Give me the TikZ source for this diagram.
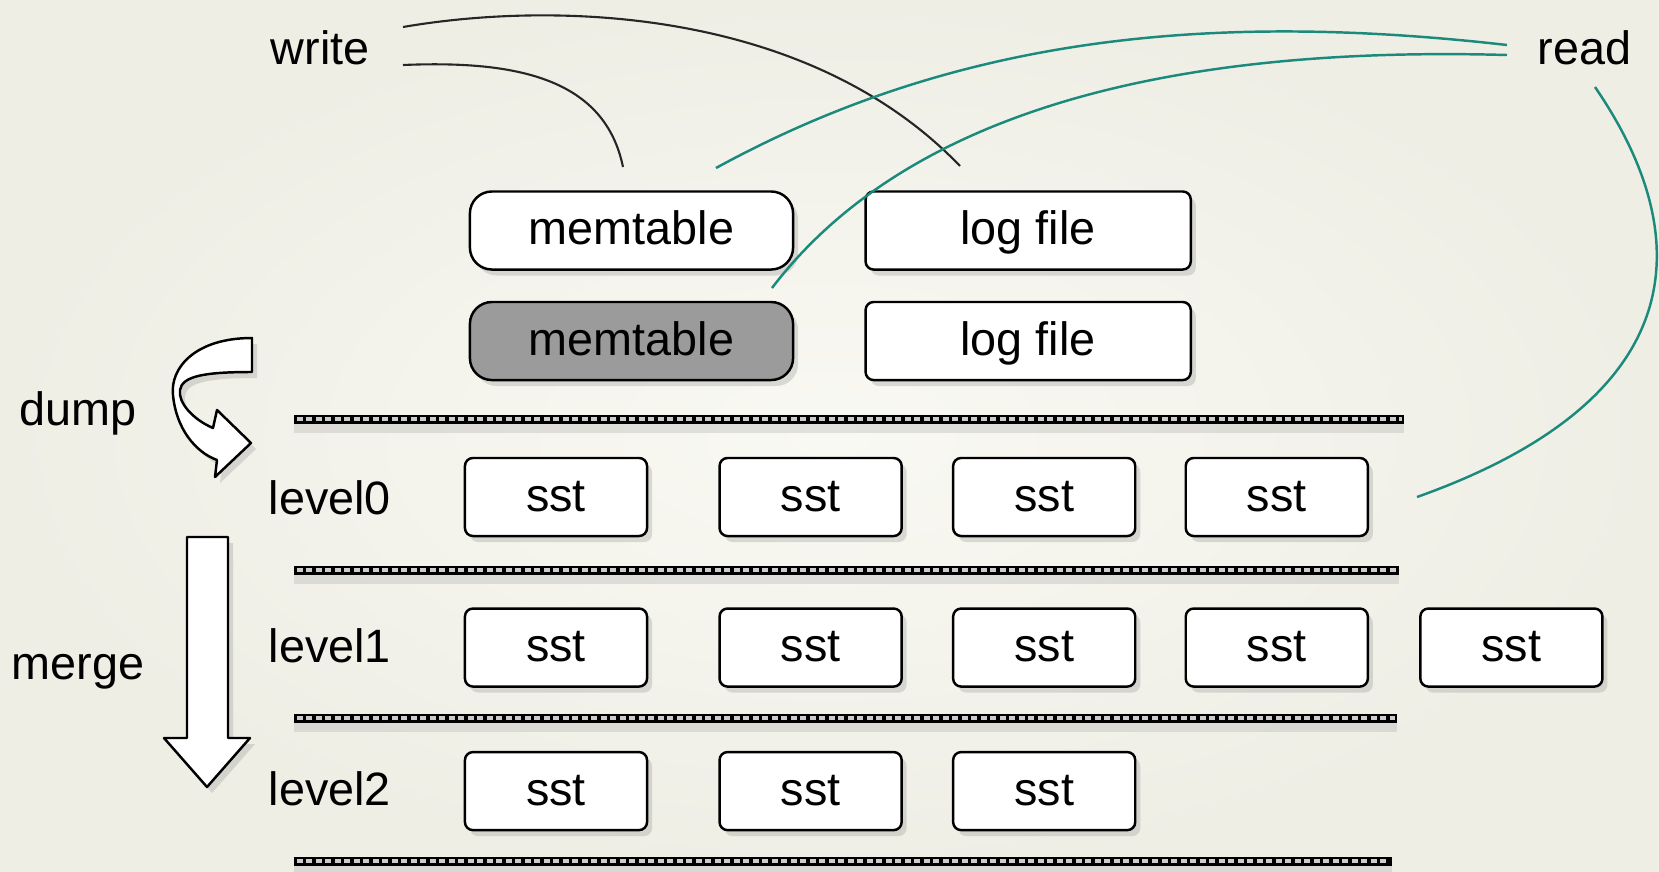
\documentclass[tikz,border=0pt]{standalone}
\usepackage{fontspec}
\setmainfont{Liberation Sans}
\usetikzlibrary{positioning}
\usetikzlibrary{shadows}
\definecolor{bgin}{RGB}{249,249,243}
\definecolor{bgout}{RGB}{239,238,229}
\definecolor{rdteal}{RGB}{27,138,124}
\definecolor{memgray}{RGB}{155,155,155}
\tikzstyle{Box} = [draw=black,fill=white,line width=0.7pt,rounded corners=0.08cm,
  minimum height=0.78cm,inner sep=0pt,text height=0.8em,text depth=0pt,
  drop shadow={shadow xshift=0.05cm,shadow yshift=-0.06cm,opacity=0.25}]
\tikzstyle{Sst} = [Box,minimum width=1.82cm]
\tikzstyle{Log} = [Box,minimum width=3.25cm]
\tikzstyle{Mem} = [Box,minimum width=3.23cm,rounded corners=0.22cm]
\tikzstyle{MemD} = [Mem,fill=memgray]
\tikzstyle{Lbl} = [inner sep=0pt,anchor=base west]
\tikzstyle{Wr} = [line width=0.6pt,black!85]
\tikzstyle{Rd} = [line width=0.7pt,rdteal]
\tikzstyle{Big} = [draw=black,fill=white,line width=0.7pt,line join=round,
  drop shadow={shadow xshift=0.05cm,shadow yshift=-0.06cm,opacity=0.25}]
\tikzstyle{Sep} = [line width=0.09cm,black,
  preaction={draw,black!30,opacity=0.35,line width=0.1cm,transform canvas={yshift=-0.09cm}},
  postaction={draw,white!80!black,line width=0.035cm,dash pattern=on 0.06cm off 0.035cm,
    shorten <=0.025cm,shorten >=0.025cm}]

\begin{document}
\begin{tikzpicture}[x=0.01cm,y=-0.01cm,font=\fontsize{13.3}{16}\selectfont]
  \useasboundingbox (0,0) rectangle (1659,872);
  \fill [inner color=bgin,outer color=bgout] (0,0) rectangle (1659,872);

  % memtables and log files
  \node [Mem] (m1) at (631.5,230.5) {memtable};
  \node [Log,right=0.70cm of m1] (f1) {log file};
  \node [MemD,below=0.30cm of m1] (m2) {memtable};
  \node [Log,below=0.30cm of f1] (f2) {log file};

  % level separators
  \draw [Sep] (294,419) -- (1404,419);
  \draw [Sep] (294,570) -- (1399,570);
  \draw [Sep] (294,718) -- (1397,718);
  \draw [Sep] (294,861) -- (1392,861);

  % level0
  \node [Sst] (s01) at (556,497) {sst};
  \node [Sst,right=0.70cm of s01] (s02) {sst};
  \node [Sst,right=0.49cm of s02] (s03) {sst};
  \node [Sst,right=0.48cm of s03] (s04) {sst};

  % level1
  \node [Sst,below=0.70cm of s01] (s11) {sst};
  \node [Sst,right=0.70cm of s11] (s12) {sst};
  \node [Sst,right=0.49cm of s12] (s13) {sst};
  \node [Sst,right=0.48cm of s13] (s14) {sst};
  \node [Sst,right=0.50cm of s14] (s15) {sst};

  % level2
  \node [Sst,below=0.63cm of s11] (s21) {sst};
  \node [Sst,right=0.70cm of s21] (s22) {sst};
  \node [Sst,right=0.49cm of s22] (s23) {sst};

  % labels
  \node [Lbl] (lv0) at (268,514) {level0};
  \node [Lbl] (lv1) at (268,662) {level1};
  \node [Lbl] (lv2) at (268,805) {level2};
  \node [Lbl] (wr) at (270,64) {write};
  \node [Lbl] (rd) at (1537,64) {read};
  \node [Lbl] (dp) at (19,425) {dump};
  \node [Lbl] (mg) at (11,679) {merge};

  % dump and merge arrows
  \filldraw [Big] (252,338) .. controls (195,338) and (170,368) .. (173,395)
    .. controls (176,428) and (195,452) .. (217,460) -- (215,477) -- (251,443)
    -- (217,410) -- (213,428) .. controls (192,419) and (178,402) .. (180,390)
    .. controls (182,376) and (205,372) .. (252,372) -- cycle;
  \filldraw [Big] (187,537) -- (228,537) -- (228,738) -- (250,738) -- (207,787)
    -- (164,738) -- (187,738) -- cycle;

  % write and read paths
  \coordinate (w1a) at (403,27);
  \coordinate (w1b) at (960,166);
  \coordinate (w2a) at (403,65);
  \coordinate (w2b) at (623,167);
  \coordinate (r1a) at (1507,45);
  \coordinate (r1b) at (716,168);
  \coordinate (r2a) at (1507,55);
  \coordinate (r2b) at (772,288);
  \coordinate (r3a) at (1595,87);
  \coordinate (r3b) at (1417,497);
  \draw [Wr] (w1a) .. controls (560,0) and (810,10) .. (w1b);
  \draw [Wr] (w2a) .. controls (520,60) and (605,80) .. (w2b);
  \draw [Rd] (r1a) .. controls (1200,10) and (950,40) .. (r1b);
  \draw [Rd] (r2a) .. controls (1150,45) and (900,120) .. (r2b);
  \draw [Rd] (r3a) .. controls (1700,240) and (1690,400) .. (r3b);
\end{tikzpicture}
\end{document}
